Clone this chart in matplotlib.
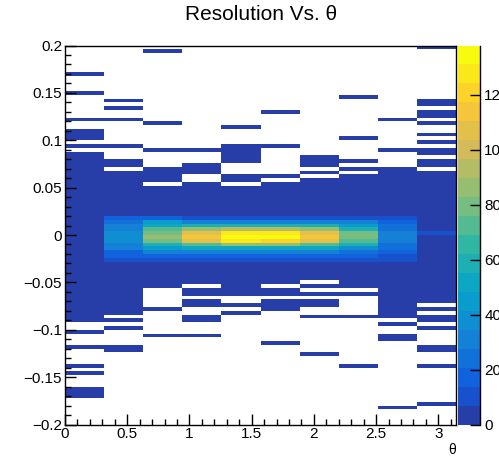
import numpy as np
import matplotlib
matplotlib.use("Agg")
import matplotlib.pyplot as plt
from matplotlib.colors import LinearSegmentedColormap, ListedColormap, BoundaryNorm

plt.rcParams["font.family"] = ["Liberation Sans", "DejaVu Sans"]

# binning of the histogram
N_THETA = 10
THETA_MAX = np.pi
RES_MIN, RES_MAX, N_RES = -0.2, 0.2, 100
Z_MAX = 138

# dark-blue (low count) regions per theta bin, as (low, high) resolution ranges
SEG_1 = [(-0.172, -0.160), (-0.148, -0.144), (-0.140, -0.136), (-0.120, -0.116),
         (-0.104, -0.100), (-0.092, 0.088), (0.092, 0.096), (0.100, 0.112),
         (0.120, 0.124), (0.148, 0.152), (0.168, 0.172)]
SEG_2 = [(-0.124, -0.116), (-0.100, -0.096), (-0.092, -0.088), (-0.084, 0.068),
         (0.072, 0.080), (0.092, 0.096), (0.120, 0.124), (0.132, 0.136), (0.140, 0.144)]
SEG_3 = [(-0.108, -0.104), (-0.080, -0.076), (-0.056, 0.052), (0.056, 0.072),
         (0.088, 0.092), (0.116, 0.120), (0.192, 0.196)]
SEG_4 = [(-0.108, -0.104), (-0.092, -0.084), (-0.076, -0.068), (-0.064, -0.056),
         (-0.052, 0.056), (0.064, 0.076), (0.088, 0.092)]
SEG_5 = [(-0.084, -0.080), (-0.076, -0.072), (-0.064, 0.052), (0.056, 0.064),
         (0.076, 0.096), (0.112, 0.116)]
SEG_6 = [(-0.116, -0.112), (-0.080, -0.068), (-0.064, -0.056), (-0.052, 0.056),
         (0.060, 0.064), (0.092, 0.096), (0.128, 0.132)]
SEG_7 = [(-0.128, -0.124), (-0.088, -0.084), (-0.076, -0.068), (-0.064, -0.060),
         (-0.056, -0.052), (-0.048, 0.060), (0.064, 0.068), (0.072, 0.084)]
SEG_8 = [(-0.140, -0.136), (-0.088, -0.084), (-0.064, -0.060), (-0.056, 0.064),
         (0.068, 0.072), (0.076, 0.080), (0.100, 0.104), (0.144, 0.148)]
SEG_9 = [(-0.184, -0.180), (-0.112, -0.104), (-0.096, -0.092), (-0.088, 0.072),
         (0.088, 0.092), (0.120, 0.124)]
SEG_10 = [(-0.180, -0.176), (-0.140, -0.136), (-0.124, -0.116), (-0.100, -0.096),
          (-0.092, -0.084), (-0.080, -0.076), (-0.072, 0.068), (0.072, 0.080),
          (0.084, 0.092), (0.096, 0.100), (0.104, 0.108), (0.116, 0.120),
          (0.124, 0.132), (0.136, 0.144), (0.196, 0.200)]
SEGMENTS = [SEG_1, SEG_2, SEG_3, SEG_4, SEG_5, SEG_6, SEG_7, SEG_8, SEG_9, SEG_10]
LOW_COUNT = 3

# counts in the central band, 12 bins from -0.028 up to 0.020
BAND_LO = -0.028
BAND_1 = [4, 4, 5, 5, 6, 6, 6, 6, 5, 5, 4, 4]
BAND_2 = [13, 16, 20, 30, 33, 35, 36, 35, 33, 30, 26, 14]
BAND_3 = [12, 20, 28, 45, 58, 78, 84, 82, 70, 55, 45, 14]
BAND_4 = [9, 16, 28, 50, 72, 105, 113, 108, 85, 60, 30, 12]
BAND_5 = [9, 16, 30, 55, 88, 128, 138, 130, 95, 62, 30, 10]
BAND_6 = [9, 15, 28, 52, 85, 124, 134, 125, 92, 60, 28, 10]
BAND_7 = [10, 16, 28, 50, 75, 106, 115, 108, 88, 62, 32, 12]
BAND_8 = [9, 15, 24, 40, 56, 74, 80, 76, 62, 48, 30, 12]
BAND_9 = [9, 12, 18, 24, 27, 29, 30, 29, 27, 24, 18, 10]
BAND_10 = [5, 5, 5, 6, 6, 6, 6, 10, 6, 5, 5, 5]
BANDS = [BAND_1, BAND_2, BAND_3, BAND_4, BAND_5, BAND_6, BAND_7, BAND_8, BAND_9, BAND_10]

# ---- histogram ----
theta_edges = np.linspace(0, THETA_MAX, N_THETA + 1)
res_edges = np.linspace(RES_MIN, RES_MAX, N_RES + 1)
bw = (RES_MAX - RES_MIN) / N_RES

def res_bin(v):
    return int(round((v - RES_MIN) / bw))

counts = np.zeros((N_THETA, N_RES))
for i, segs in enumerate(SEGMENTS):
    for lo, hi in segs:
        counts[i, res_bin(lo):res_bin(hi)] = LOW_COUNT
    j0 = res_bin(BAND_LO)
    counts[i, j0:j0 + len(BANDS[i])] = BANDS[i]

# ROOT kBird palette, 20 contour levels
stops = [0.0, 0.125, 0.25, 0.375, 0.5, 0.625, 0.75, 0.875, 1.0]
red = [0.2082, 0.0592, 0.0780, 0.0232, 0.1802, 0.5301, 0.8186, 0.9956, 0.9764]
green = [0.1664, 0.3599, 0.5041, 0.6419, 0.7178, 0.7492, 0.7328, 0.7862, 0.9832]
blue = [0.5293, 0.8684, 0.8385, 0.7914, 0.6425, 0.4662, 0.3499, 0.1968, 0.0539]
bird = LinearSegmentedColormap.from_list("kbird", list(zip(stops, zip(red, green, blue))))
n_levels = 20
level_cols = [bird(int((c + 0.99) * 255 / n_levels) / 254) for c in range(n_levels)]
cmap = ListedColormap(level_cols)
norm = BoundaryNorm(np.linspace(0, Z_MAX, n_levels + 1), cmap.N)

# ---- figure ----
W, H = 499, 457
fig = plt.figure(figsize=(W / 100, H / 100), dpi=100)
ax_l, ax_r, ax_t, ax_b = 65, 456, 45.5, 424.5
ax = fig.add_axes([ax_l / W, 1 - ax_b / H, (ax_r - ax_l) / W, (ax_b - ax_t) / H])
cax = fig.add_axes([458 / W, 1 - ax_b / H, 22 / W, (ax_b - ax_t) / H])

mesh = ax.pcolormesh(theta_edges, res_edges, np.ma.masked_equal(counts, 0).T,
                     cmap=cmap, norm=norm, edgecolors="none", antialiased=False)
ax.set_xlim(0, THETA_MAX)
ax.set_ylim(RES_MIN, RES_MAX)
ax.set_facecolor("white")

ax.set_xticks(np.arange(0, 3.01, 0.5))
ax.set_xticks(np.arange(0, 3.15, 0.1), minor=True)
ax.set_yticks(np.arange(-0.2, 0.201, 0.05))
ax.set_yticks(np.arange(-0.2, 0.201, 0.01), minor=True)
ax.set_xticklabels(["0", "0.5", "1", "1.5", "2", "2.5", "3"])
ax.set_yticklabels(["\u22120.2", "\u22120.15", "\u22120.1", "\u22120.05", "0",
                    "0.05", "0.1", "0.15", "0.2"])
ax.tick_params(which="both", direction="in", top=False, right=False,
               labelsize=11, pad=2, width=1.0, color="black")
ax.tick_params(which="major", length=8)
ax.tick_params(which="minor", length=4)
for sp in ax.spines.values():
    sp.set_linewidth(1.0)

cbar = fig.colorbar(mesh, cax=cax, ticks=[0, 20, 40, 60, 80, 100, 120])
cbar.outline.set_visible(False)
cax.plot([1, 1], [0, 1], transform=cax.transAxes, color="black", lw=1.0, clip_on=False)
cax.tick_params(direction="in", length=7, width=1.0, labelsize=11, pad=3,
                right=True, left=False)
cax.minorticks_off()

fig.text(261 / W, 1 - 15 / H, "Resolution Vs. \u03b8", ha="center", va="center", fontsize=15)
fig.text(452 / W, 1 - 450 / H, "\u03b8", ha="center", va="center", fontsize=10)

fig.savefig("out.png", dpi=100)
